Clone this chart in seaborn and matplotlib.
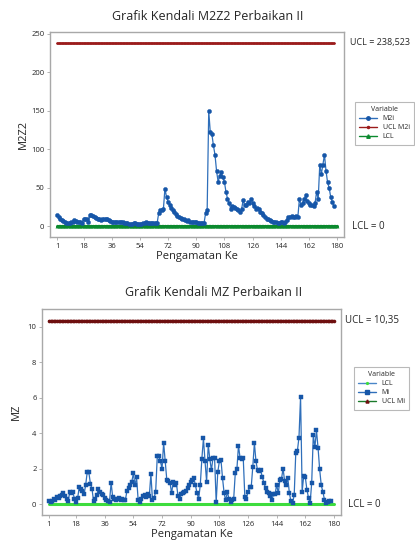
import numpy as np
import pandas as pd
import matplotlib
matplotlib.use("Agg")
import matplotlib.pyplot as plt
import matplotlib.transforms as mtransforms
from matplotlib.lines import Line2D
import seaborn as sns

# ---------------- data ----------------
m2i = [15, 12, 10, 8, 7, 5, 4, 4, 4, 5, 6, 8, 7, 6, 6, 5, 4, 10, 9, 9,
       6, 15, 14, 13, 12, 11, 10, 9, 8, 9, 10, 9, 9, 8, 7, 6, 6, 5, 5, 6,
       6, 5, 5, 4, 4, 4, 3, 3, 3, 4, 4, 3, 3, 3, 3, 4, 4, 5, 4, 4,
       4, 4, 4, 4, 4, 17, 21, 21, 22, 49, 38, 32, 27, 24, 21, 19, 16, 13, 12, 11,
       10, 9, 8, 7, 8, 6, 6, 5, 5, 5, 4, 4, 4, 4, 4, 17, 21, 150, 122, 120,
       105, 93, 72, 58, 65, 70, 64, 58, 45, 36, 30, 23, 26, 25, 24, 23, 21, 19, 22, 34,
       27, 28, 32, 30, 35, 30, 26, 23, 24, 22, 19, 17, 14, 12, 10, 9, 8, 7, 6, 5,
       5, 4, 4, 5, 5, 4, 6, 8, 12, 12, 13, 12, 12, 13, 12, 36, 27, 30, 35, 40,
       33, 30, 28, 27, 26, 30, 45, 35, 80, 68, 80, 93, 72, 57, 50, 38, 32, 26]
ucl_m2i = 238.523
lcl_m2i = 0.0

mi = [0.15, 0.10, 0.15, 0.30, 0.25, 0.40, 0.35, 0.45, 0.50, 0.60,
      0.45, 0.30, 0.15, 0.65, 0.60, 0.65, 0.30, 0.13, 0.35, 0.95,
      0.85, 0.75, 0.55, 1.05, 1.80, 1.80, 1.15, 0.85, 0.15, 0.30,
      0.50, 0.85, 0.65, 0.55, 0.50, 0.35, 0.20, 0.15, 0.13, 1.20,
      0.40, 0.30, 0.25, 0.30, 0.35, 0.25, 0.30, 0.22, 0.25, 0.75,
      0.90, 1.05, 1.25, 1.75, 1.05, 1.50, 0.22, 0.13, 0.30, 0.45,
      0.50, 0.40, 0.55, 0.45, 1.70, 0.20, 0.35, 0.70, 2.70, 2.70,
      2.40, 2.00, 3.45, 2.40, 1.35, 1.30, 1.20, 0.60, 1.25, 1.10,
      1.20, 0.45, 0.30, 0.55, 0.60, 0.65, 0.75, 0.90, 1.10, 1.25,
      1.35, 1.45, 1.05, 0.60, 0.30, 1.05, 2.55, 3.70, 2.40, 1.25,
      3.35, 2.55, 1.90, 2.60, 2.60, 0.10, 1.80, 2.40, 2.50, 1.45,
      0.60, 0.20, 0.70, 0.30, 0.10, 0.20, 0.30, 1.75, 1.95, 3.30,
      2.60, 2.55, 2.60, 0.40, 0.30, 0.70, 0.95, 0.95, 2.10, 3.45,
      2.40, 1.90, 1.85, 1.90, 1.50, 1.20, 0.90, 0.70, 0.60, 0.45,
      0.25, 0.55, 0.55, 1.10, 0.60, 1.35, 1.40, 2.00, 1.30, 1.10,
      1.45, 0.60, 0.15, 0.05, 0.50, 2.90, 3.00, 3.75, 6.05, 0.70,
      1.60, 1.50, 0.80, 0.35, 0.05, 1.20, 3.90, 3.20, 4.15, 3.15,
      1.95, 1.05, 0.70, 0.25, 0.05, 0.12, 0.15, 0.18]
ucl_mi = 10.35
lcl_mi = 0.0

n_limit = 180
xticks = [1, 18, 36, 54, 72, 90, 108, 126, 144, 162, 180]

title_top = "Grafik Kendali M2Z2 Perbaikan II"
title_bot = "Grafik Kendali MZ Perbaikan II"
xlabel = "Pengamatan Ke"

# ---------------- style ----------------
sns.set_style("white")
plt.rcParams['font.family'] = ['Open Sans', 'DejaVu Sans']

BLUE = "#1656a8"
BLUE_LINE = "#2f6fba"
RED = "#9b1b1b"
MAROON = "#6e0f0f"
GREEN_D = "#0b8a2e"
GREEN_B = "#3ddc3d"
SPINE = "#a8a8a8"

fig = plt.figure(figsize=(4.15, 5.44), dpi=100)
ax1 = fig.add_axes([50/415, 1-237/544, 294/415, 205/544])
ax2 = fig.add_axes([42/415, 1-515/544, 299/415, 206/544])

obs_m2i = np.arange(1, len(m2i) + 1)
obs_mi = np.arange(1, len(mi) + 1)
obs_lim = np.arange(1, n_limit + 1)

df_top = pd.DataFrame({"obs": obs_m2i, "M2i": m2i,
                       "UCL": [ucl_m2i] * len(m2i)})
df_lcl = pd.DataFrame({"obs": obs_lim, "LCL": [lcl_m2i] * n_limit})

# top chart
sns.lineplot(data=df_top, x="obs", y="UCL", ax=ax1, color=RED, lw=2.0,
             marker="o", markersize=1.2, markeredgewidth=0)
sns.lineplot(data=df_lcl, x="obs", y="LCL", ax=ax1, color=GREEN_D, lw=2.2,
             marker="^", markersize=2.8, markeredgewidth=0)
sns.lineplot(data=df_top, x="obs", y="M2i", ax=ax1, color=BLUE_LINE, lw=0.9,
             marker="o", markersize=3.0, markerfacecolor=BLUE,
             markeredgecolor=BLUE, markeredgewidth=0.3)

ax1.set_ylim(-14, 252.6)
ax1.set_xlim(-3.5, 184.5)
ax1.set_yticks([0, 50, 100, 150, 200, 250])
ax1.set_xticks(xticks)
ax1.set_title(title_top, fontsize=9, pad=9, x=0.535)
ax1.set_ylabel("M2Z2", fontsize=8, labelpad=2)
ax1.set_xlabel(xlabel, fontsize=8, labelpad=1)

# bottom chart
df_bot = pd.DataFrame({"obs": obs_mi, "Mi": mi})
df_lim2 = pd.DataFrame({"obs": obs_lim, "UCL": [ucl_mi] * n_limit,
                        "LCL": [lcl_mi] * n_limit})
sns.lineplot(data=df_lim2, x="obs", y="UCL", ax=ax2, color=MAROON, lw=1.6,
             marker="o", markersize=2.6, markeredgewidth=0)
sns.lineplot(data=df_lim2, x="obs", y="LCL", ax=ax2, color=GREEN_B, lw=2.2)
sns.lineplot(data=df_bot, x="obs", y="Mi", ax=ax2, color=BLUE_LINE, lw=0.9,
             marker="s", markersize=2.6, markerfacecolor=BLUE,
             markeredgecolor=BLUE, markeredgewidth=0.3)

ax2.set_ylim(-0.62, 11.0)
ax2.set_xlim(-3.4, 184.4)
ax2.set_yticks([0, 2, 4, 6, 8, 10])
ax2.set_xticks(xticks)
ax2.set_title(title_bot, fontsize=9, pad=9, x=0.575)
ax2.set_ylabel("MZ", fontsize=8, labelpad=4)
ax2.set_xlabel(xlabel, fontsize=8, labelpad=1)

for ax in (ax1, ax2):
    for s in ax.spines.values():
        s.set_color(SPINE)
        s.set_linewidth(1.0)
    ax.tick_params(axis="both", labelsize=5.5, length=2.5, width=0.6,
                   color=SPINE, pad=1.5, direction="out",
                   bottom=True, left=True)

# limit annotations
tr1 = mtransforms.blended_transform_factory(ax1.transAxes, ax1.transData)
ax1.text(1.022, ucl_m2i, "UCL = 238,523", transform=tr1, fontsize=6.5,
         va="center", ha="left")
ax1.text(1.027, lcl_m2i, "LCL = 0", transform=tr1, fontsize=7,
         va="center", ha="left")
tr2 = mtransforms.blended_transform_factory(ax2.transAxes, ax2.transData)
ax2.text(1.013, ucl_mi, "UCL = 10,35", transform=tr2, fontsize=7,
         va="center", ha="left")
ax2.text(1.023, lcl_mi, "LCL = 0", transform=tr2, fontsize=7,
         va="center", ha="left")

# legends (Minitab-style)
h_top = [Line2D([], [], color=BLUE_LINE, lw=1, marker="o", markersize=2.5,
                markerfacecolor=BLUE, markeredgecolor=BLUE),
         Line2D([], [], color=RED, lw=1, marker="o", markersize=1.5,
                markerfacecolor=RED, markeredgecolor=RED),
         Line2D([], [], color=GREEN_D, lw=1, marker="^", markersize=2.5,
                markerfacecolor=GREEN_D, markeredgecolor=GREEN_D)]
leg1 = fig.legend(h_top, ["M2i", "UCL M2i", "LCL"], title="Variable",
                  loc="upper left", bbox_to_anchor=(355/415, 1-102/544),
                  fontsize=5, title_fontsize=5, frameon=True,
                  handlelength=2.6, borderpad=0.6, labelspacing=0.3,
                  handletextpad=0.8, fancybox=False, borderaxespad=0)
leg1.get_frame().set_edgecolor(SPINE)
leg1.get_frame().set_linewidth(0.8)

h_bot = [Line2D([], [], color="#4a86c8", lw=1, marker="o", markersize=1.3,
                markerfacecolor=GREEN_B, markeredgecolor=GREEN_B),
         Line2D([], [], color=BLUE_LINE, lw=1, marker="s", markersize=2.2,
                markerfacecolor=BLUE, markeredgecolor=BLUE),
         Line2D([], [], color="#1b7a2b", lw=1, marker="^", markersize=2.2,
                markerfacecolor=MAROON, markeredgecolor=MAROON)]
leg2 = fig.legend(h_bot, ["LCL", "Mi", "UCL Mi"], title="Variable",
                  loc="upper left", bbox_to_anchor=(354/415, 1-367/544),
                  fontsize=5, title_fontsize=5, frameon=True,
                  handlelength=2.6, borderpad=0.6, labelspacing=0.3,
                  handletextpad=0.8, fancybox=False, borderaxespad=0)
leg2.get_frame().set_edgecolor(SPINE)
leg2.get_frame().set_linewidth(0.8)

fig.savefig("out.png", dpi=100, facecolor="white")
